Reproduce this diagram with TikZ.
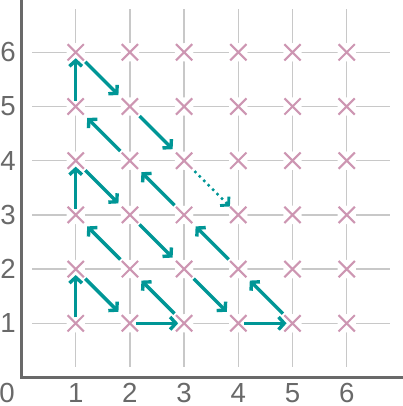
\documentclass[tikz,border=0pt]{standalone}
\usepackage{fontspec}
\setmainfont{Liberation Sans}
\usetikzlibrary{arrows.meta}
\definecolor{teal1}{RGB}{0,150,150}
\definecolor{crosscol}{RGB}{205,150,178}
\definecolor{gridcol}{RGB}{200,200,200}
\definecolor{axiscol}{RGB}{105,105,105}
\tikzset{
  ptnode/.style={circle, fill=white, inner sep=0pt, minimum size=0.34cm},
  crossline/.style={draw=crosscol, line width=1.1pt},
  gridline/.style={draw=gridcol, line width=0.75pt},
  axisline/.style={draw=axiscol, line width=1.5pt},
  lab/.style={text=axiscol, font=\fontsize{14.5}{17}\selectfont, inner sep=0pt},
  arr/.style={draw=teal1, line width=1.8pt, miter limit=10,
    -{Straight Barb[length=3pt,width=6.6pt,line width=1.8pt]}},
  hv/.style={shorten <=0.11cm, shorten >=0.11cm},
  dg/.style={shorten <=0.25cm, shorten >=0.30cm},
}
\begin{document}
\begin{tikzpicture}[x=1cm,y=1cm]
\useasboundingbox (-0.397,-0.526) rectangle (7.038,6.965);
% grid
\foreach \i in {1,...,6} {
  \draw[gridline] (\i,0.2) -- (\i,6.8);
  \draw[gridline] (0.2,\i) -- (6.8,\i);
}
% axes
\coordinate (top) at (0,6.965);
\coordinate (orig) at (0,0);
\coordinate (right) at (7.038,0);
\draw[axisline] (top) -- (orig) -- (right);
% points
\foreach \x in {1,...,6} {
  \foreach \y in {1,...,6} {
    \node[ptnode] (p\x\y) at (\x,\y) {};
    \draw[crossline] (\x-0.15,\y-0.15) -- (\x+0.15,\y+0.15)
                     (\x-0.15,\y+0.15) -- (\x+0.15,\y-0.15);
  }
}
% labels
\node[lab] (l0) at (-0.265,-0.28) {0};
\foreach \i in {1,...,6} {
  \node[lab] (lx\i) at (\i,-0.28) {\i};
  \node[lab] (ly\i) at (-0.25,\i) {\i};
}
% arrows
\draw[arr,hv] (p11.center) -- (p12.center);
\draw[arr,dg] (p12.center) -- (p21.center);
\draw[arr,hv] (p21.center) -- (p31.center);
\draw[arr,dg] (p31.center) -- (p22.center);
\draw[arr,dg] (p22.center) -- (p13.center);
\draw[arr,hv] (p13.center) -- (p14.center);
\draw[arr,dg] (p14.center) -- (p23.center);
\draw[arr,dg] (p23.center) -- (p32.center);
\draw[arr,dg] (p32.center) -- (p41.center);
\draw[arr,hv] (p41.center) -- (p51.center);
\draw[arr,dg] (p51.center) -- (p42.center);
\draw[arr,dg] (p42.center) -- (p33.center);
\draw[arr,dg] (p33.center) -- (p24.center);
\draw[arr,dg] (p24.center) -- (p15.center);
\draw[arr,hv] (p15.center) -- (p16.center);
\draw[arr,dg] (p16.center) -- (p25.center);
\draw[arr,dg] (p25.center) -- (p34.center);
\draw[draw=teal1, line width=1.3pt, dotted, shorten <=0.27cm, shorten >=0.22cm,
  -{Straight Barb[length=3pt,width=6.6pt,line width=1.5pt]}] (p34.center) -- (p43.center);
\end{tikzpicture}
\end{document}
